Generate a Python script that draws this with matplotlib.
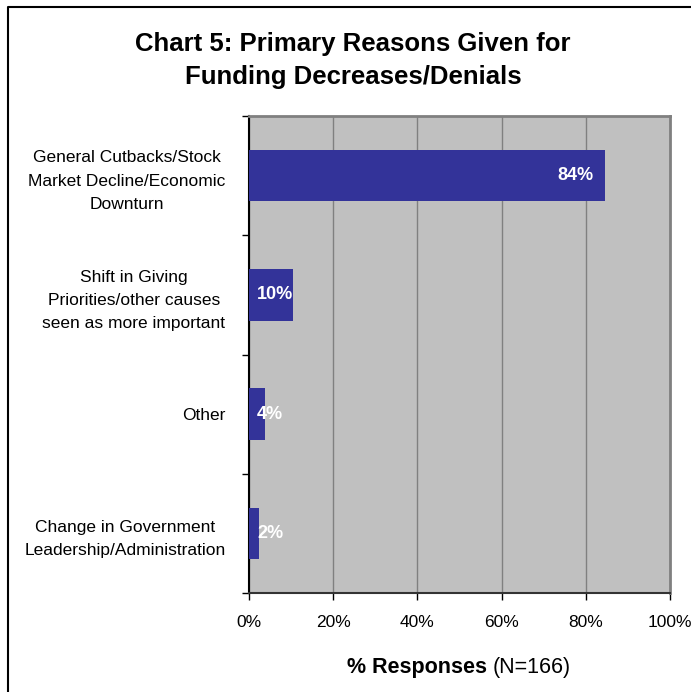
import matplotlib.pyplot as plt
import matplotlib.ticker as ticker
from matplotlib.lines import Line2D

# data (top to bottom)
reasons = [
    "General Cutbacks/Stock\nMarket Decline/Economic\nDownturn",
    "Shift in Giving\nPriorities/other causes\nseen as more important",
    "Other",
    "Change in Government\nLeadership/Administration",
]
pct = [84.5, 10.4, 3.8, 2.4]
pct_labels = ["84%", "10%", "4%", "2%"]
xticks = [0, 20, 40, 60, 80, 100]

plt.rcParams['font.family'] = ['Liberation Sans', 'DejaVu Sans']

fig = plt.figure(figsize=(6.91, 6.92), dpi=100)
ax = fig.add_axes([249 / 691, 1 - 593 / 692, 421 / 691, 477 / 692])

pos = list(range(len(reasons)))
ax.barh(pos, pct, height=0.43, color='#333399', zorder=3)
ax.set_ylim(len(reasons) - 0.5, -0.5)
ax.set_xlim(0, 100)

for i, (v, lab) in enumerate(zip(pct, pct_labels)):
    if v > 20:
        ax.text(v - 2.6, i, lab, ha='right', va='center', color='white',
                fontsize=13, fontweight='bold', zorder=4)
    else:
        ax.text(1.9, i, lab, ha='left', va='center', color='white',
                fontsize=13, fontweight='bold', zorder=4)

ax.set_facecolor('#C0C0C0')
ax.xaxis.grid(True, color='#808080', linewidth=1, zorder=1)
ax.set_axisbelow(True)

ax.set_xticks(xticks)
ax.xaxis.set_major_formatter(ticker.FuncFormatter(lambda v, p: f'{int(v)}%'))
ax.tick_params(axis='x', direction='out', length=5, width=1, labelsize=12.5, pad=11)

ax.set_yticks(pos)
ax.set_yticklabels(reasons, multialignment='center', fontsize=12.5, linespacing=1.7)
ax.tick_params(axis='y', which='major', length=0, pad=17)
ax.set_yticks([-0.5, 0.5, 1.5, 2.5, 3.5], minor=True)
ax.tick_params(axis='y', which='minor', direction='out', length=5, width=1)

for s in ['top', 'right']:
    ax.spines[s].set_color('#808080')
    ax.spines[s].set_linewidth(2)
ax.spines['left'].set_color('black')
ax.spines['left'].set_linewidth(1.5)
ax.spines['bottom'].set_color('#333333')
ax.spines['bottom'].set_linewidth(1.5)

fig.text(353 / 691, 1 - 44 / 692, "Chart 5: Primary Reasons Given for",
         ha='center', va='center', fontsize=18.5, fontweight='bold')
fig.text(353 / 691, 1 - 77 / 692, "Funding Decreases/Denials",
         ha='center', va='center', fontsize=18.5, fontweight='bold')

t1 = fig.text(0, 1 - 668 / 692, "% Responses ", ha='left', va='center',
              fontsize=15.5, fontweight='bold')
t2 = fig.text(0, 1 - 668 / 692, "(N=166)", ha='left', va='center', fontsize=15.5)
fig.canvas.draw()
r = fig.canvas.get_renderer()
w1 = t1.get_window_extent(r).width
w2 = t2.get_window_extent(r).width
x0 = 459 - (w1 + w2) / 2
t1.set_x(x0 / 691)
t2.set_x((x0 + w1) / 691)

# outer frame (only left and top visible in the crop)
fig.add_artist(Line2D([8 / 691, 8 / 691, 1.0], [0.0, 1 - 7 / 692, 1 - 7 / 692],
                      transform=fig.transFigure, color='black', linewidth=1.5))

plt.savefig("out.png", dpi=100)
